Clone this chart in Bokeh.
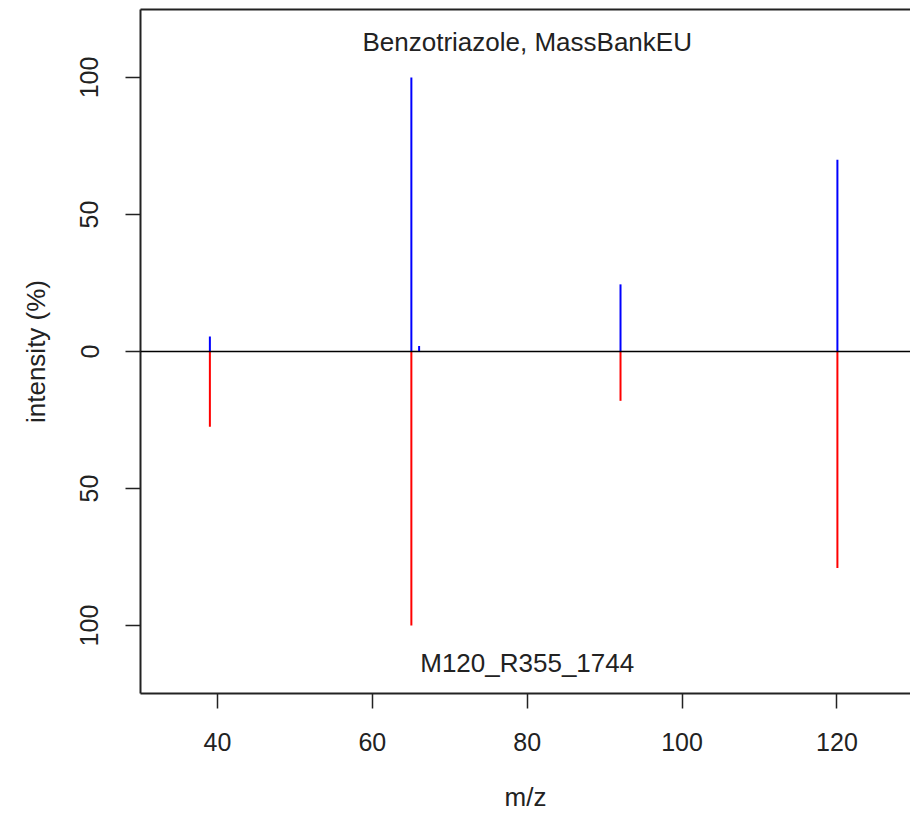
from bokeh.plotting import figure
from bokeh.models import Range1d, Span, FixedTicker, LinearAxis, Label
from bokeh.embed import file_html
from bokeh.resources import INLINE

# reference spectrum (MassBankEU), plotted upward
mz_ref = [39.02, 65.04, 66.04, 92.05, 120.06]
int_ref = [5.5, 100, 2, 24.5, 70]
# query spectrum (M120_R355_1744), plotted downward
mz_query = [39.02, 65.04, 92.05, 120.06]
int_query = [27.5, 100, 18, 79]

x_ticks = [40, 60, 80, 100, 120]
y_ticks = [-100, -50, 0, 50, 100]
y_tick_labels = ["100", "50", "0", "50", "100"]

title_top = "Benzotriazole, MassBankEU"
title_bottom = "M120_R355_1744"

FONT = "Liberation Sans"

p = figure(width=910, height=814,
           x_range=Range1d(30.06, 129.5), y_range=Range1d(-124.8, 124.8),
           output_backend="svg", toolbar_location=None,
           min_border_left=140, min_border_right=0, min_border_top=9,
           min_border_bottom=118,
           x_axis_label="m/z", y_axis_label="intensity (%)")

p.grid.visible = False
p.outline_line_color = None
p.background_fill_color = "white"
p.border_fill_color = "white"

for ax in (p.xaxis[0], p.yaxis[0]):
    ax.axis_line_color = "#222222"
    ax.axis_line_width = 2
    ax.major_tick_line_color = "#222222"
    ax.major_tick_line_width = 1.5
    ax.major_tick_out = 15
    ax.major_tick_in = 0
    ax.minor_tick_line_color = None
    ax.major_label_text_font = FONT
    ax.major_label_text_font_size = "25px"
    ax.major_label_text_color = "#222222"
    ax.axis_label_text_font = FONT
    ax.axis_label_text_font_size = "26px"
    ax.axis_label_text_font_style = "normal"
    ax.axis_label_text_color = "#222222"

p.xaxis.ticker = FixedTicker(ticks=x_ticks)
p.yaxis.ticker = FixedTicker(ticks=y_ticks)
p.yaxis.major_label_overrides = {t: l for t, l in zip(y_ticks, y_tick_labels)}
p.yaxis.major_label_orientation = "parallel"
p.xaxis.major_label_standoff = 24
p.xaxis.axis_label_standoff = 28
p.yaxis.major_label_standoff = 27
p.yaxis.axis_label_standoff = 27

top = LinearAxis(ticker=FixedTicker(ticks=[]), axis_line_color="#222222",
                 axis_line_width=2, major_tick_out=0, minor_tick_out=0,
                 major_label_standoff=0, axis_label=None)
p.add_layout(top, "above")

p.add_layout(Span(location=0, dimension="width", line_color="black", line_width=1.5))

p.segment(x0=mz_ref, y0=[0] * len(mz_ref), x1=mz_ref, y1=int_ref,
          line_color="blue", line_width=2)
p.segment(x0=mz_query, y0=[0] * len(mz_query), x1=mz_query,
          y1=[-v for v in int_query], line_color="red", line_width=2)

p.add_layout(Label(x=80, y=113, text=title_top, text_align="center",
                   text_baseline="middle", text_font=FONT,
                   text_font_size="26px", text_color="#222222"))
p.add_layout(Label(x=80, y=-113.5, text=title_bottom, text_align="center",
                   text_baseline="middle", text_font=FONT,
                   text_font_size="26px", text_color="#222222"))

open("out.html", "w").write(file_html(p, INLINE))
